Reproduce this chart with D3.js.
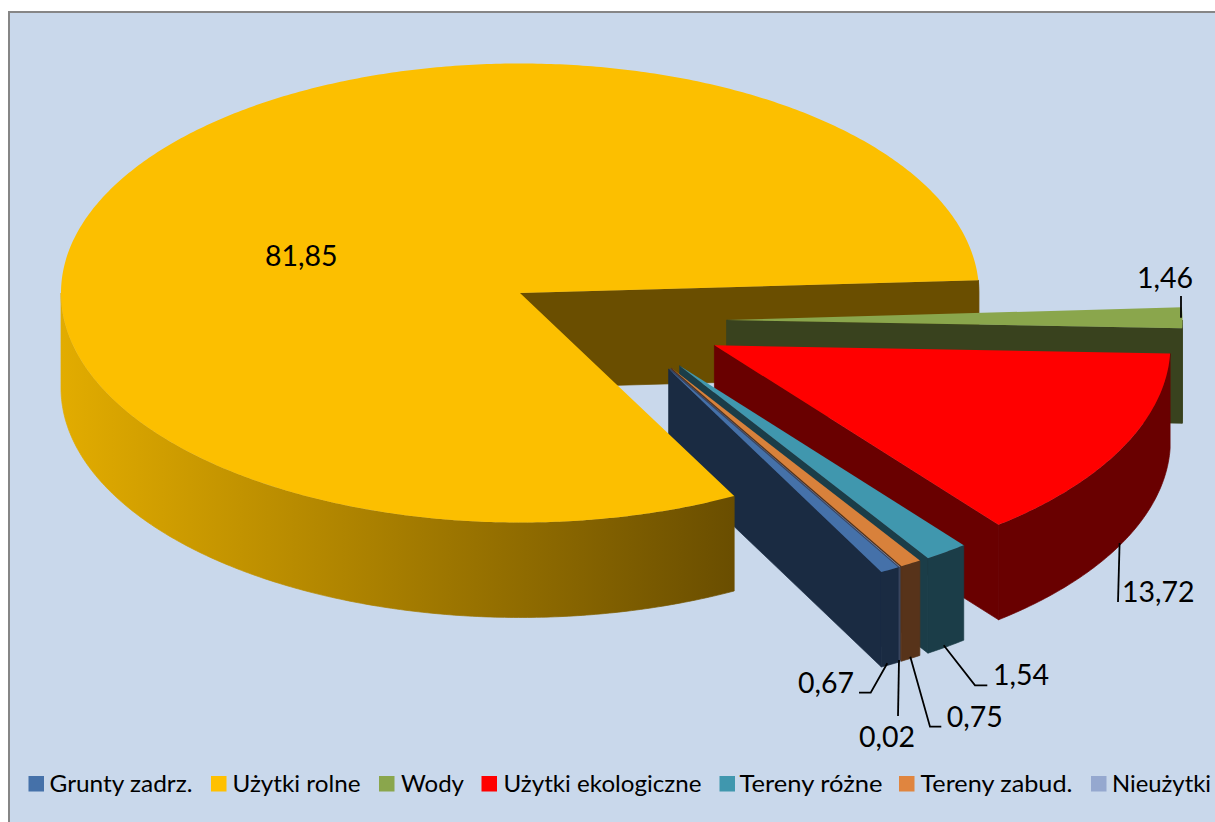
<!DOCTYPE html>
<html>
<head>
<meta charset="utf-8">
<script src="https://cdnjs.cloudflare.com/ajax/libs/d3/7.8.5/d3.min.js"></script>
<style>
html,body{margin:0;padding:0;background:#fff;}
svg{display:block;}
text{font-family:Lato,"Open Sans",sans-serif;fill:#000;}
</style>
</head>
<body>
<script>
// ---- data ----
const categories = ["Grunty zadrz.","Użytki rolne","Wody","Użytki ekologiczne","Tereny różne","Tereny zabud.","Nieużytki"];
const values = [0.67,81.85,1.46,13.72,1.54,0.75,0.02];

// ---- styles ----
const topColors  = ["#4571A9","#FCBF00","#8AA64C","#FF0000","#4097AE","#D8813B","#95A8CF"];
const wallColors = ["#1A2B42","#6A4E00","#39421E","#690000","#1B3D48","#57331A","#3B4661"];
const legendColors = ["#4571A9","#FFC000","#8AA64C","#FF0000","#4097AE","#E0853F","#95A8CF"];
// explosion: slice apex position and horizontal radius
const apexX = [668.6,520,726.5,714.4,679.6,671.5,670];
const apexY = [369,293,320,345.3,365.7,368,368.6];
const radiusX = [456,459,456,456,456,456,456];
const paintOrder = [2,3,4,5,6,0];
const labelX = [798,265,1137,1122,993,946.7,859];
const labelY = [692.7,266,288,602,685.3,726.7,746.7];
const leaders = [
  [[887.3,663.3],[870.7,692.7],[859,692.7]],
  null,
  [[1181,296],[1181,317.7]],
  [[1119.6,543],[1118,602]],
  [[943.7,645.3],[975,685.3],[987.3,685.3]],
  [[910.3,656.7],[930,726.7],[941.3,726.7]],
  [[899,660],[898,716]]
];
const legendSquareX = [28.5,211,379,481.5,719.5,899,1091];
const legendTextX = [49.5,232.5,401,503.5,739.5,920.5,1112];
const legendTextW = [143,128,63,198,143,152,99];

const W = 1215, H = 822;
const ry = 229.5, depth = 95;
const startDeg = 149.77;

const svg = d3.select("body").append("svg").attr("width",W).attr("height",H);
const defs = svg.append("defs");
const grad = defs.append("linearGradient").attr("id","rimGrad")
  .attr("gradientUnits","userSpaceOnUse").attr("x1",61).attr("x2",733).attr("y1",0).attr("y2",0);
grad.append("stop").attr("offset","0").attr("stop-color","#E2AC00");
grad.append("stop").attr("offset","1").attr("stop-color","#6A4E00");

// background panel
svg.append("rect").attr("x",9).attr("y",12).attr("width",W+20).attr("height",H+20)
  .attr("fill","#C9D8EB").attr("stroke","#868686").attr("stroke-width",2);

const pie = d3.pie().sort(null).value(d=>d)
  .startAngle(startDeg*Math.PI/180).endAngle(startDeg*Math.PI/180+2*Math.PI);
const arcs = pie(values);
const line = d3.line();
const TAU = 2*Math.PI;

function pt(i,a,dy){ // a: clockwise from top
  return [apexX[i]+radiusX[i]*Math.sin(a), apexY[i]-ry*Math.cos(a)+(dy||0)];
}
function arcPts(i,a0,a1,dy){
  const n = Math.max(2,Math.ceil(Math.abs(a1-a0)/0.01));
  return d3.range(n+1).map(k=>pt(i,a0+(a1-a0)*k/n,dy));
}
function drawEndWall(g,i,a1){
  if(Math.sin(a1)<=0) return;
  const apex=[apexX[i],apexY[i]], o=pt(i,a1);
  g.append("path").attr("d",line([apex,o,[o[0],o[1]+depth],[apex[0],apex[1]+depth]])+"Z")
    .attr("fill",wallColors[i]).attr("stroke",wallColors[i]).attr("stroke-width",0.7);
}
function drawRim(g,i,lo,hi,fill){
  if(hi<=lo) return;
  g.append("path").attr("d",line(arcPts(i,lo,hi,0).concat(arcPts(i,hi,lo,depth)))+"Z")
    .attr("fill",fill).attr("stroke",fill).attr("stroke-width",0.7);
}
function drawTop(g,i,a0,a1){
  g.append("path").attr("d",line([[apexX[i],apexY[i]]].concat(arcPts(i,a0,a1,0)))+"Z").attr("fill",topColors[i]);
}

const gSl = svg.append("g");
// main slice: back wall goes behind the exploded slices
const main = 1;
const mainA0 = arcs[main].startAngle, mainA1 = arcs[main].endAngle;
const gBack = gSl.append("g");
drawEndWall(gBack,main,mainA1);
drawRim(gBack,main,mainA1-TAU,Math.PI/2,wallColors[main]);

paintOrder.forEach(i=>{
  let a0 = arcs[i].startAngle, a1 = arcs[i].endAngle;
  if(a0>=TAU){a0-=TAU;a1-=TAU;}
  const g = gSl.append("g").attr("class","slice");
  drawEndWall(g,i,a1);
  drawRim(g,i,Math.max(a0,Math.PI/2),Math.min(a1,3*Math.PI/2),wallColors[i]);
  drawTop(g,i,a0,a1);
});

// main slice: rim and top lie in front of the exploded slices
const gFront = gSl.append("g");
drawRim(gFront,main,mainA0,3*Math.PI/2,"url(#rimGrad)");
drawTop(gFront,main,mainA0,mainA1);

// leaders
const gL = svg.append("g");
leaders.forEach(p=>{
  if(p) gL.append("path").attr("d",line(p)).attr("fill","none").attr("stroke","#000").attr("stroke-width",1.8);
});

// value labels
const fmt = d3.formatLocale({decimal:",",thousands:" ",grouping:[3],currency:["",""]}).format(".2f");
svg.append("g").selectAll("text").data(values).join("text")
  .attr("x",(d,i)=>labelX[i]).attr("y",(d,i)=>labelY[i])
  .attr("font-size",28.5)
  .text(d=>fmt(d));

// legend
const gLeg = svg.append("g");
categories.forEach((c,i)=>{
  gLeg.append("rect").attr("x",legendSquareX[i]).attr("y",776).attr("width",15.5).attr("height",15.5).attr("fill",legendColors[i]);
  gLeg.append("text").attr("x",legendTextX[i]).attr("y",791.5).attr("font-size",24)
    .attr("textLength",legendTextW[i]).attr("lengthAdjust","spacingAndGlyphs").text(c);
});
</script>
</body>
</html>
